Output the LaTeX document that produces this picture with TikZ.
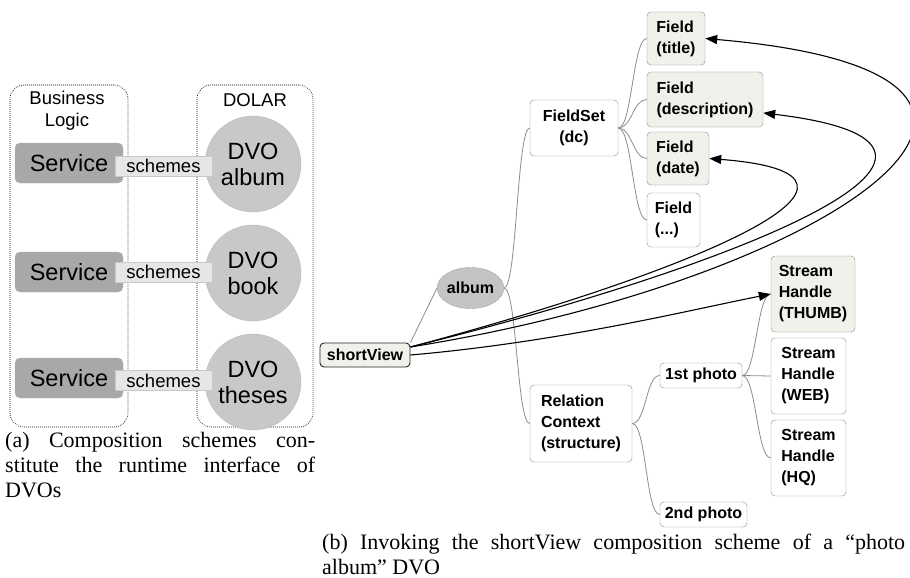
\documentclass[tikz,border=0pt]{standalone}
\usepackage{fontspec}
\setmainfont{Liberation Serif}
\newfontfamily\arial{Liberation Sans}
\usetikzlibrary{arrows.meta,shapes.geometric}
\definecolor{svcfill}{RGB}{168,168,168}
\definecolor{svcline}{RGB}{182,182,182}
\definecolor{schfill}{RGB}{230,230,230}
\definecolor{schline}{RGB}{200,200,200}
\definecolor{dvofill}{RGB}{200,200,200}
\definecolor{dvoline}{RGB}{188,188,188}
\definecolor{mmline}{RGB}{140,140,140}
\definecolor{mmlight}{RGB}{241,241,235}
\definecolor{albfill}{RGB}{196,196,196}
\begin{document}
\begin{tikzpicture}[x=1pt,y=-1pt,
  areabox/.style={draw=black, line width=0.6pt, dash pattern=on 0.8pt off 1.2pt,
    rounded corners=14pt, inner sep=0pt},
  svcbox/.style={draw=svcline, fill=svcfill, rounded corners=5pt, inner sep=0pt,
    minimum width=108pt, minimum height=40pt,
    font=\arial\fontsize{23.5}{26}\selectfont},
  schbox/.style={draw=schline, fill=schfill, inner sep=0pt,
    minimum width=97pt, minimum height=20pt,
    font=\arial\fontsize{18.5}{20}\selectfont},
  dvobub/.style={circle, draw=dvoline, fill=dvofill, inner sep=0pt,
    minimum size=96pt, align=center,
    font=\arial\fontsize{23.5}{26}\selectfont},
  arealabel/.style={align=center, inner sep=0pt,
    font=\arial\fontsize{18.5}{22}\selectfont},
  mmbox/.style={draw=mmline, fill=white, rounded corners=4pt, inner sep=0pt,
    align=left, font=\arial\bfseries\fontsize{16}{21}\selectfont},
  mmhi/.style={mmbox, fill=mmlight},
  mmroot/.style={mmbox, fill=mmlight, draw=black!85, line width=0.9pt},
  mmellipse/.style={ellipse, draw=mmline!80, fill=albfill, inner sep=0pt,
    font=\arial\bfseries\fontsize{16}{21}\selectfont},
  treeline/.style={draw=mmline, line width=0.8pt},
  callarrow/.style={draw=black, line width=1.1pt,
    -{Triangle[length=12pt,width=9pt]}},
  captext/.style={anchor=north west, inner sep=0pt, align=justify,
    font=\fontsize{22}{25}\selectfont}
]
\useasboundingbox (0,0) rectangle (910,578);
\fill[white] (0,0) rectangle (910,578);

% ---------- (a) services and DVOs ----------
\node[areabox, minimum width=118pt, minimum height=342pt] (blarea) at (69,256) {};
\node[areabox, minimum width=116pt, minimum height=342pt] (dlarea) at (255,256) {};
\node[arealabel] (bltext) at (67,111) {Business\\Logic};
\node[arealabel] (dltext) at (255,100) {DOLAR};

\node[svcbox] (s1) at (69,163) {Service};
\node[svcbox] (s2) at (69,272) {Service};
\node[svcbox] (s3) at (69,378) {Service};

\node[dvobub] (d1) at (253,164) {DVO\\album};
\node[dvobub] (d2) at (253,273) {DVO\\book};
\node[dvobub] (d3) at (253,382) {DVO\\theses};

\node[schbox] (c1) at (163.5,166) {schemes};
\node[schbox] (c2) at (163.5,272) {schemes};
\node[schbox] (c3) at (163.5,380.5) {schemes};

\node[captext, text width=310pt] (capa) at (5,432)
  {(a) Composition schemes con-\linebreak stitute the runtime interface of\linebreak DVOs};

% ---------- (b) shortView composition scheme ----------
\node[mmroot, minimum width=90pt, minimum height=24pt] (sv) at (365,355) {shortView};
\node[mmellipse, minimum width=65pt, minimum height=41pt] (album) at (470.5,288) {album};

\node[mmbox, align=center, minimum width=88pt, minimum height=56pt] (fs) at (574,128) {FieldSet\\(dc)};
\node[mmbox, minimum width=102pt, minimum height=77pt] (rel) at (581,423.5) {Relation\\Context\\(structure)};

\node[mmhi, minimum width=58pt, minimum height=53pt] (ftitle) at (676,38.5) {Field\\(title)};
\node[mmhi, minimum width=116pt, minimum height=55pt] (fdesc) at (705,99.5) {Field\\(description)};
\node[mmhi, minimum width=62pt, minimum height=53pt] (fdate) at (678,158.5) {Field\\(date)};
\node[mmbox, minimum width=53pt, minimum height=54pt] (fmore) at (673.5,220) {Field\\(...)};

\node[mmbox, minimum width=82pt, minimum height=25pt] (p1) at (701,375.5) {1st photo};
\node[mmbox, minimum width=87pt, minimum height=25pt] (p2) at (703.5,514.5) {2nd photo};

\node[mmhi, minimum width=84pt, minimum height=76pt] (thumb) at (813,294) {Stream\\Handle\\(THUMB)};
\node[mmbox, minimum width=75pt, minimum height=76pt] (web) at (808.5,376) {Stream\\Handle\\(WEB)};
\node[mmbox, minimum width=75pt, minimum height=76pt] (hq) at (808.5,458) {Stream\\Handle\\(HQ)};

% tree structure
\draw[treeline] (sv.north east) -- (album.west);
\draw[treeline] (album.east) .. controls +(13,0) and +(-13,0) .. (fs.west);
\draw[treeline] (album.east) .. controls +(13,0) and +(-13,0) .. (rel.west);
\foreach \f in {ftitle,fdesc,fdate,fmore}
  \draw[treeline] (fs.east) .. controls +(14,0) and +(-14,0) .. (\f.west);
\foreach \p in {p1,p2}
  \draw[treeline] (rel.east) .. controls +(14,0) and +(-14,0) .. (\p.west);
\foreach \h in {thumb,web,hq}
  \draw[treeline] (p1.east) .. controls +(14,0) and +(-14,0) .. (\h.west);

% scheme references
\draw[callarrow] (sv.10) .. controls (830,280) and (1130,75) .. (ftitle.east);
\draw[callarrow] (sv.10) .. controls (760,260) and (1030,145) .. (fdesc.-13);
\draw[callarrow] (sv.10) .. controls (700,270) and (920,175) .. (fdate.east);
\draw[callarrow] (sv.east) .. controls (560,342) and (690,310) .. (thumb.west);

\node[captext, text width=583pt] (capb) at (322,534)
  {(b) Invoking the shortView composition scheme of a “photo\linebreak album” DVO};
\end{tikzpicture}
\end{document}
